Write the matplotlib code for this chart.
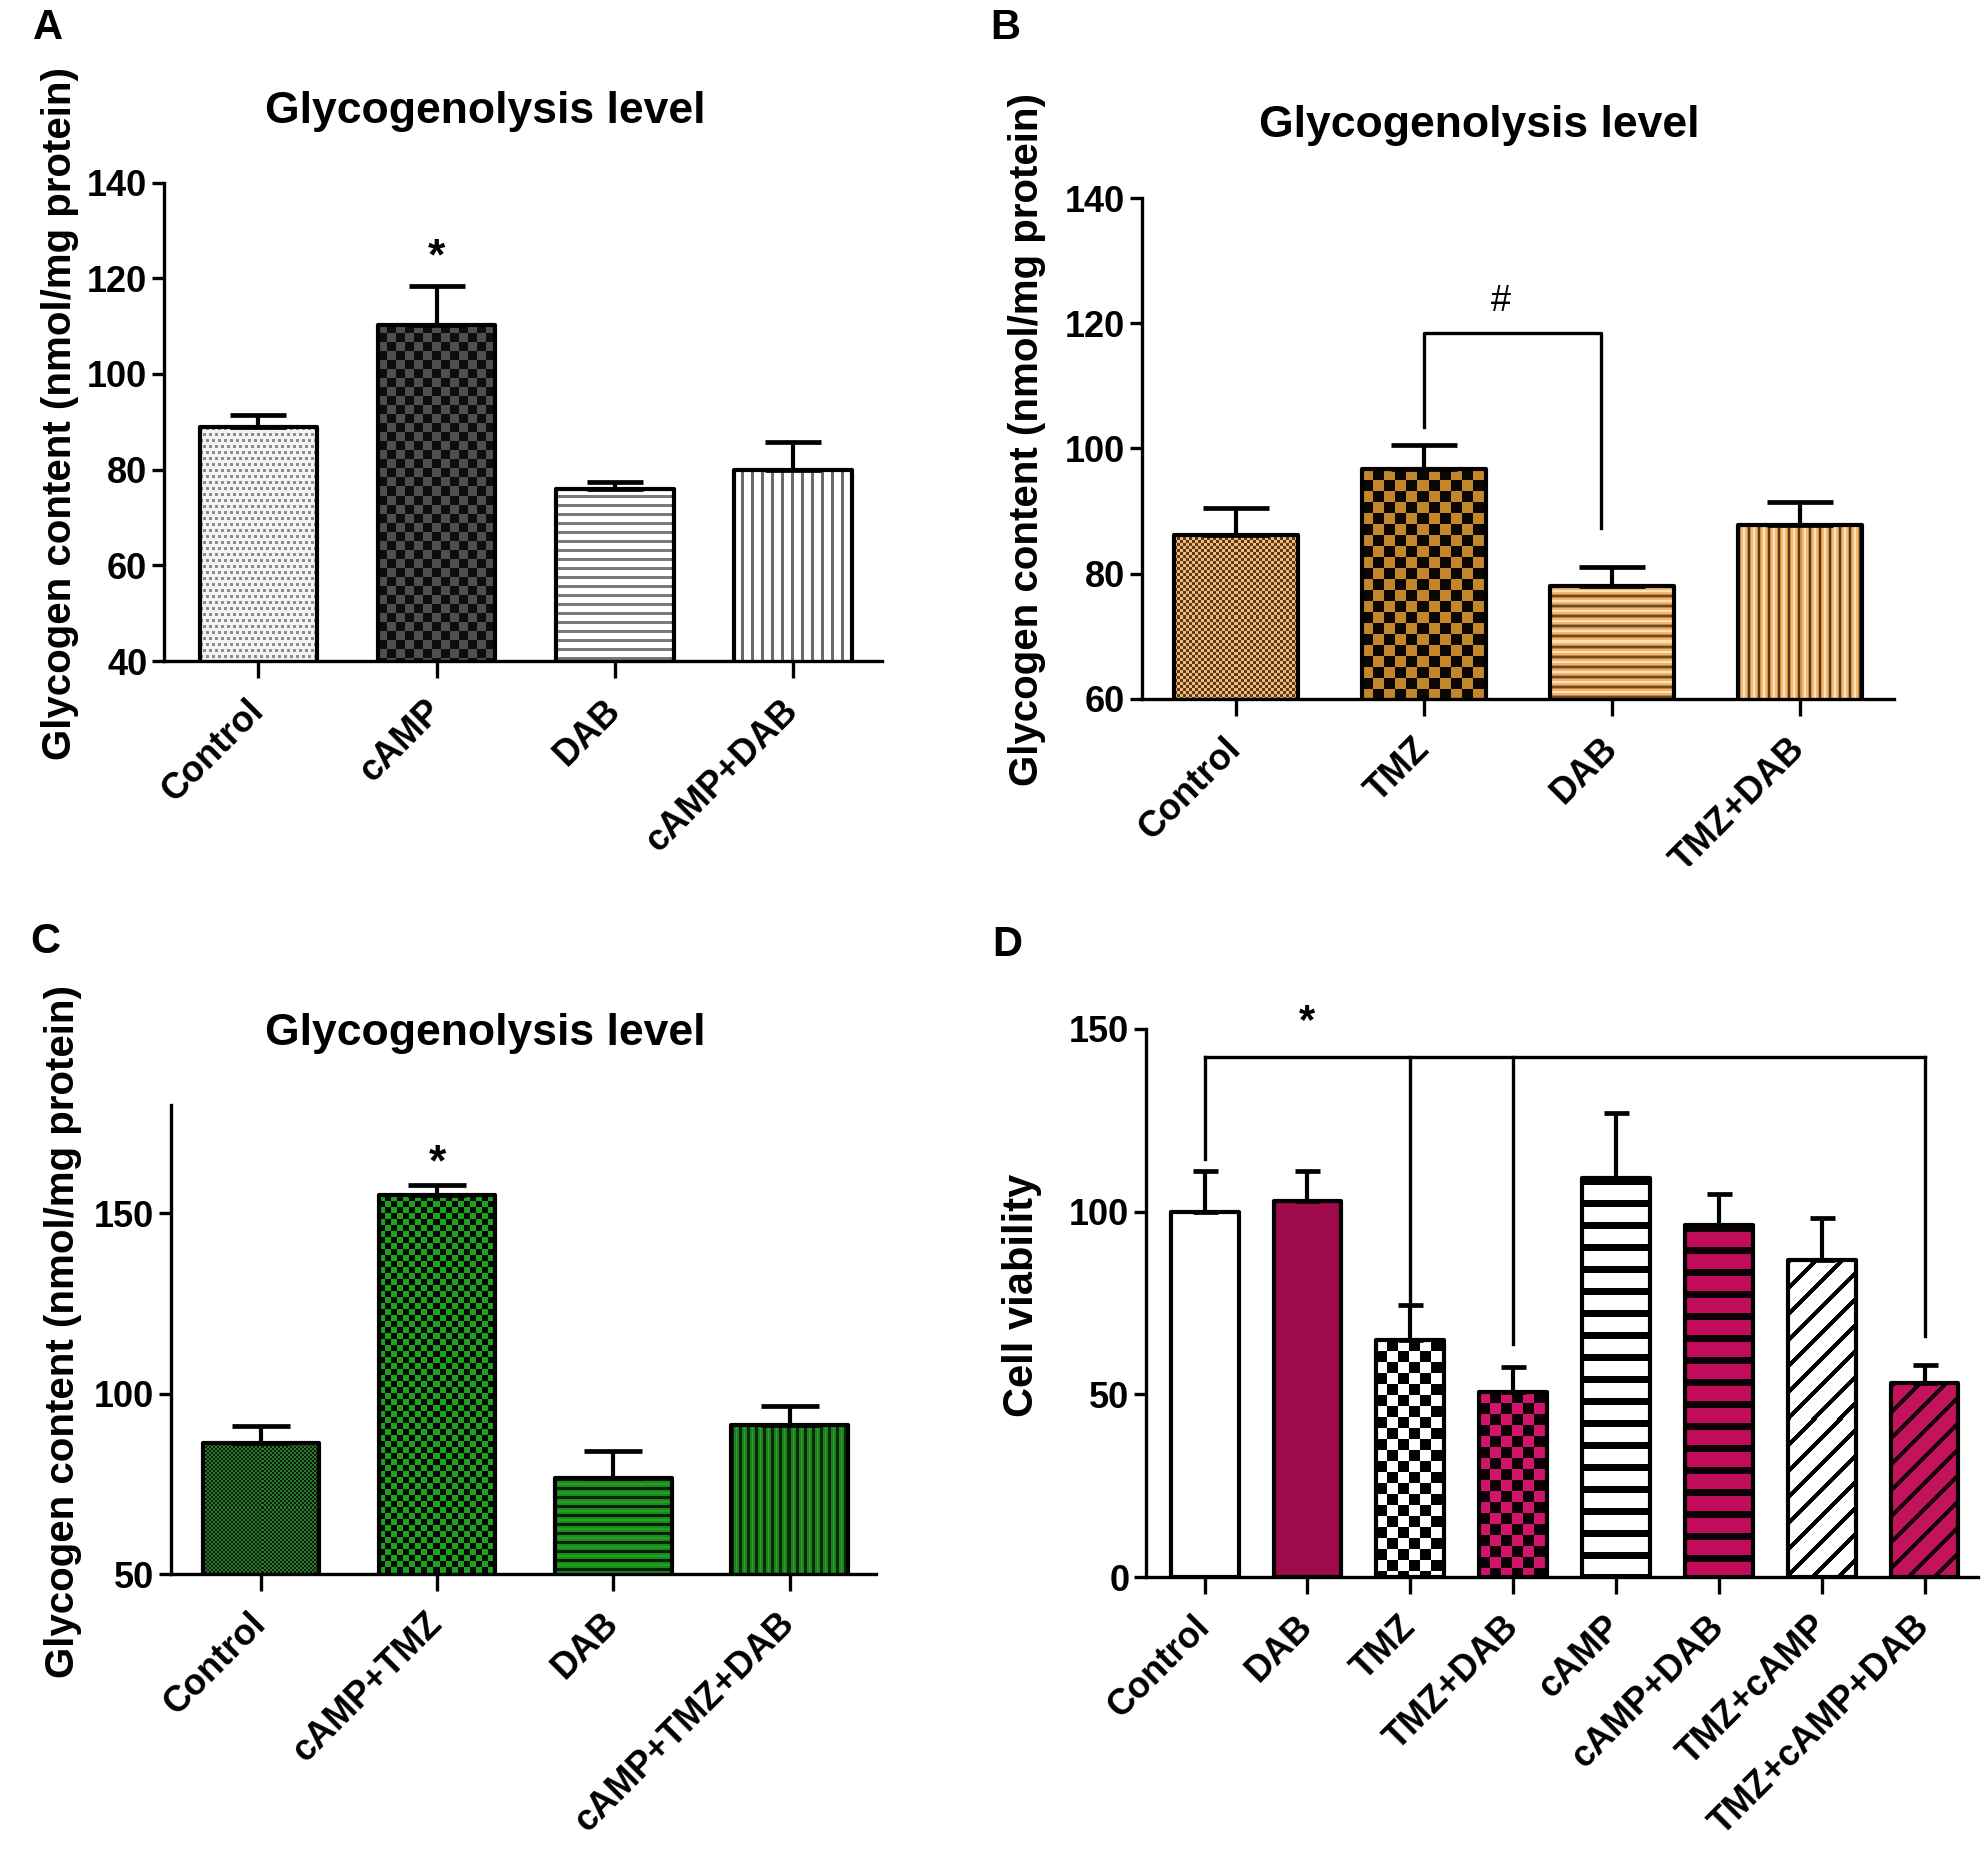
import numpy as np
import matplotlib
matplotlib.use('Agg')
import matplotlib.pyplot as plt
from matplotlib.transforms import Bbox

plt.rcParams['font.family'] = ['Liberation Sans', 'DejaVu Sans']
plt.rcParams['font.weight'] = 'bold'

# ---------------- data ----------------
a_labels = ['Control', 'cAMP', 'DAB', 'cAMP+DAB']
a_means = [88.8, 110.3, 75.9, 80.0]
a_errs = [2.7, 8.0, 1.5, 5.8]

b_labels = ['Control', 'TMZ', 'DAB', 'TMZ+DAB']
b_means = [86.2, 96.7, 78.1, 87.8]
b_errs = [4.3, 3.9, 3.0, 3.6]

c_labels = ['Control', 'cAMP+TMZ', 'DAB', 'cAMP+TMZ+DAB']
c_means = [86.4, 155.0, 76.6, 91.4]
c_errs = [4.5, 2.8, 7.5, 5.3]

d_labels = ['Control', 'DAB', 'TMZ', 'TMZ+DAB', 'cAMP', 'cAMP+DAB',
            'TMZ+cAMP', 'TMZ+cAMP+DAB']
d_means = [100.0, 103.0, 64.8, 50.6, 109.1, 96.3, 86.8, 53.0]
d_errs = [11.1, 8.1, 9.7, 6.8, 17.9, 8.5, 11.5, 5.0]

# significance annotations
b_bracket_x = [1, 1.94]
b_bracket_y = [103.4, 118.5, 87.3]
d_bracket_groups = [0, 2, 3, 7]
d_bracket_top = 142.2
d_bracket_ends = [114.5, 73.6, 63.9, 66.0]


# ---------------- texture helpers ----------------
def hexrgb(c):
    return np.array(matplotlib.colors.to_rgb(c))


def tex_solid(h, w, c):
    return np.ones((h, w, 3)) * hexrgb(c)


def tex_checker(h, w, cell, c1, c2):
    yy, xx = np.mgrid[0:h, 0:w]
    m = ((yy // cell + xx // cell) % 2).astype(bool)
    return np.where(m[..., None], hexrgb(c1), hexrgb(c2))


def tex_dots(h, w, period, size, bg, fg):
    yy, xx = np.mgrid[0:h, 0:w]
    m = ((yy % period) < size) & (((xx + (yy // period % 2) * (period // 2)) % period) < size)
    return np.where(m[..., None], hexrgb(fg), hexrgb(bg))


def tex_bands(h, w, seq, vertical=False):
    cols = np.array([hexrgb(c) for c in seq])
    yy, xx = np.mgrid[0:h, 0:w]
    idx = (xx if vertical else yy) % len(seq)
    return cols[idx]


def tex_diag(h, w, period, lw, bg, fg):
    yy, xx = np.mgrid[0:h, 0:w]
    m = ((xx + yy) % period) < lw
    return np.where(m[..., None], hexrgb(fg), hexrgb(bg))


def rep(c, n):
    return [c] * n


a_tex = [
    lambda h, w: tex_dots(h, w, 6, 3, '#f4f4f4', '#8c8c8c'),
    lambda h, w: tex_checker(h, w, 9, '#0d0d0d', '#4f4f4f'),
    lambda h, w: tex_bands(h, w, rep('#ffffff', 6) + rep('#7a7a7a', 3)),
    lambda h, w: tex_bands(h, w, rep('#ffffff', 7) + rep('#6a6a6a', 3), vertical=True),
]
b_tex = [
    lambda h, w: tex_checker(h, w, 3, '#f0bb7a', '#5a3a18'),
    lambda h, w: tex_checker(h, w, 11, '#0a0703', '#c4862a'),
    lambda h, w: tex_bands(h, w, rep('#704a22', 2) + ['#b8844a'] + rep('#f2b46e', 2)
                           + rep('#fde0b4', 2) + rep('#f2b46e', 2) + ['#b8844a']),
    lambda h, w: tex_bands(h, w, rep('#5a3a18', 2) + ['#c89050'] + rep('#f5b870', 2)
                           + rep('#fde4bc', 2) + rep('#f5b870', 2) + ['#c89050'],
                           vertical=True),
]
c_tex = [
    lambda h, w: tex_checker(h, w, 2, '#0a1f0a', '#2e782e'),
    lambda h, w: tex_checker(h, w, 6, '#050a05', '#1fa01f'),
    lambda h, w: tex_bands(h, w, rep('#062006', 3) + rep('#1a8a1a', 2)
                           + rep('#22a022', 2) + rep('#1a8a1a', 2)),
    lambda h, w: tex_bands(h, w, rep('#0a2a0a', 3) + rep('#1f801f', 2) + ['#2aa02a']
                           + rep('#1f801f', 2), vertical=True),
]
d_tex = [
    lambda h, w: tex_solid(h, w, '#ffffff'),
    lambda h, w: tex_solid(h, w, '#9e0a4c'),
    lambda h, w: tex_checker(h, w, 11, '#000000', '#ffffff'),
    lambda h, w: tex_checker(h, w, 11, '#0a0005', '#d0146a'),
    lambda h, w: tex_bands(h, w, rep('#000000', 7) + rep('#ffffff', 15)),
    lambda h, w: tex_bands(h, w, rep('#0a0005', 7) + rep('#c00c5a', 15)),
    lambda h, w: tex_diag(h, w, 26, 6, '#ffffff', '#000000'),
    lambda h, w: tex_diag(h, w, 26, 6, '#c2135c', '#1a0008'),
]


# ---------------- figure ----------------
fig = plt.figure(figsize=(19.88, 18.76), dpi=100)
W, H = 1988.0, 1876.0


def add_ax(left, top, right, bottom):
    return fig.add_axes([left / W, 1 - bottom / H, (right - left) / W, (bottom - top) / H])


def panel(ax, labels, means, errs, ylim, yticks, xlim, texs, capsize, width=0.66):
    x = np.arange(len(labels))
    ax.set_xlim(*xlim)
    ax.set_ylim(*ylim)
    bars = ax.bar(x, means, width=width, color='white', edgecolor='none', zorder=2)
    for bar, m, tf in zip(bars, means, texs):
        x0 = bar.get_x()
        x1 = x0 + bar.get_width()
        y0 = max(0, ylim[0])
        p0 = ax.transData.transform((x0, y0))
        p1 = ax.transData.transform((x1, m))
        w = max(1, int(round(p1[0] - p0[0])))
        h = max(1, int(round(p1[1] - p0[1])))
        im = ax.imshow(tf(h, w), extent=(x0, x1, y0, m), aspect='auto',
                       interpolation='nearest', zorder=2.5)
        im.set_clip_path(bar)
    outl = ax.bar(x, means, width=width, fill=False, edgecolor='black',
                  linewidth=3.0, zorder=3)
    for p in outl:
        p.set_joinstyle('round')
    ax.errorbar(x, means, yerr=[np.zeros(len(means)), errs], fmt='none',
                ecolor='black', elinewidth=3.0, capsize=capsize, capthick=3.4, zorder=4)
    ax.set_xlim(*xlim)
    ax.set_ylim(*ylim)
    ax.set_yticks(yticks)
    ax.set_yticklabels([str(t) for t in yticks])
    ax.set_xticks(x)
    ax.set_xticklabels(labels, rotation=45, ha='right', va='center',
                       rotation_mode='anchor')
    for s in ['top', 'right']:
        ax.spines[s].set_visible(False)
    for s in ['left', 'bottom']:
        ax.spines[s].set_linewidth(2.4)
        ax.spines[s].set_zorder(5)
    ax.tick_params(axis='y', direction='out', width=2.4, length=9, pad=3, labelsize=26)
    ax.tick_params(axis='x', direction='out', width=2.4, length=12, pad=20, labelsize=26)
    for t in ax.get_xticklabels() + ax.get_yticklabels():
        t.set_fontweight('bold')
    ax.set_facecolor('none')


# Panel A
axA = add_ax(164, 182.5, 882, 661)
panel(axA, a_labels, a_means, a_errs, (40, 140), [40, 60, 80, 100, 120, 140],
      (-0.53, 3.5), a_tex, 20)
axA.text(1, 124.3, '*', ha='center', va='center', fontsize=32, fontweight='bold')

# Panel B
axB = add_ax(1142, 198, 1894, 699)
panel(axB, b_labels, b_means, b_errs, (60, 140), [60, 80, 100, 120, 140],
      (-0.5, 3.5), b_tex, 24)
axB.plot([b_bracket_x[0], b_bracket_x[0], b_bracket_x[1], b_bracket_x[1]],
         [b_bracket_y[0], b_bracket_y[1], b_bracket_y[1], b_bracket_y[2]],
         color='black', lw=2.4, zorder=4, clip_on=False)
axB.text(np.mean(b_bracket_x) - 0.06, 123.5, '#', ha='center', va='center',
         fontsize=26, fontweight='normal')
# the original panel B is cropped just below its last tick label
clipB = Bbox([[990, H - 866], [W, H]])
for t in axB.get_xticklabels():
    t.set_clip_on(True)
    t.set_clip_box(clipB)

# Panel C
axC = add_ax(171, 1105, 876, 1574)
panel(axC, c_labels, c_means, c_errs, (50, 180), [50, 100, 150],
      (-0.51, 3.49), c_tex, 21)
axC.text(1, 163.6, '*', ha='center', va='center', fontsize=32, fontweight='bold')

# Panel D
axD = add_ax(1146, 1029, 1978, 1577)
panel(axD, d_labels, d_means, d_errs, (0, 150), [0, 50, 100, 150],
      (-0.57, 7.52), d_tex, 9)
axD.plot([d_bracket_groups[0], d_bracket_groups[-1]], [d_bracket_top, d_bracket_top],
         color='black', lw=2.4, zorder=4, clip_on=False)
for g, e in zip(d_bracket_groups, d_bracket_ends):
    axD.plot([g, g], [d_bracket_top, e], color='black', lw=2.4, zorder=4, clip_on=False)
axD.text(1, 152, '*', ha='center', va='center', fontsize=30, fontweight='bold',
         clip_on=False)

# titles
for (cx, cy) in [(485, 112), (1479, 125), (485, 1034)]:
    fig.text(cx / W, 1 - cy / H, 'Glycogenolysis level', ha='center', va='center',
             fontsize=32, fontweight='bold')

# y labels
ylab = 'Glycogen content (nmol/mg protein)'
fig.text(60 / W, 1 - 413 / H, ylab, rotation=90, ha='center', va='center',
         fontsize=29, fontweight='bold')
fig.text(1027 / W, 1 - 439 / H, ylab, rotation=90, ha='center', va='center',
         fontsize=29, fontweight='bold')
fig.text(63 / W, 1 - 1331 / H, ylab, rotation=90, ha='center', va='center',
         fontsize=29, fontweight='bold')
fig.text(1022 / W, 1 - 1295 / H, 'Cell viability', rotation=90, ha='center',
         va='center', fontsize=30, fontweight='bold')

# panel letters
for letter, (lx, ly) in zip('ABCD', [(33, 8), (990, 8), (30, 922), (992, 925)]):
    fig.text(lx / W, 1 - ly / H, letter, ha='left', va='top', fontsize=30,
             fontweight='bold')

fig.savefig('out.png', dpi=100, facecolor='white')
